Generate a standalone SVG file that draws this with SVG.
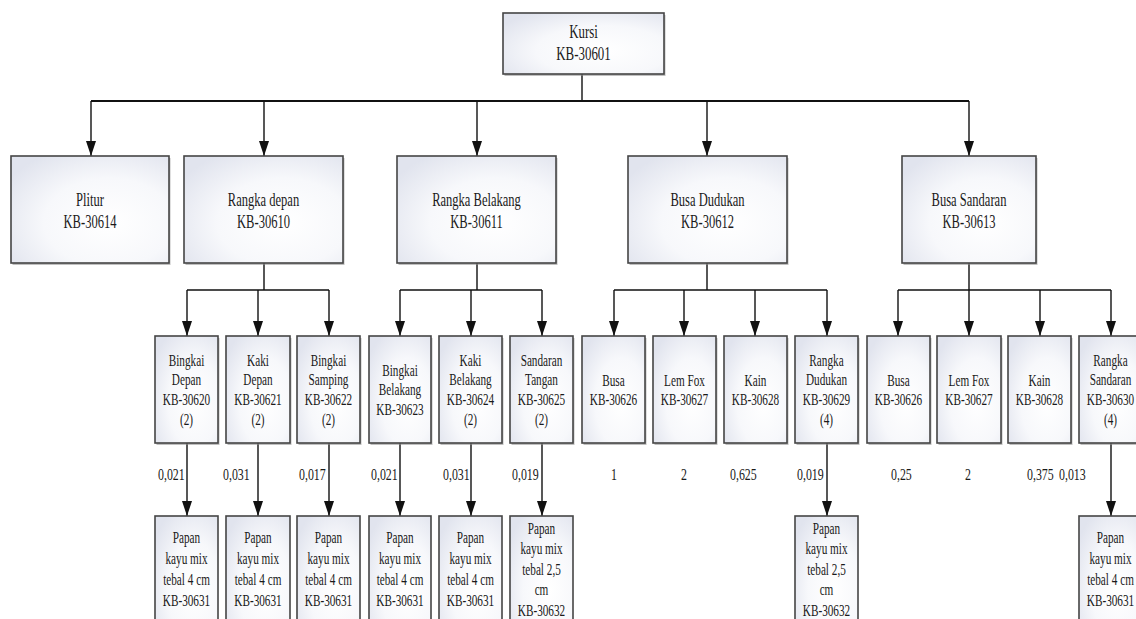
<svg xmlns="http://www.w3.org/2000/svg" width="1136" height="619" viewBox="0 0 1136 619">
<style>
.box{fill:url(#bg);stroke:#454545;stroke-width:1.6}
.sh{fill:#8a8a8a;opacity:.55}
.t{font-family:"Liberation Serif","Times New Roman",serif;fill:#1a1a1a;text-anchor:middle}
.big{font-size:19px}
.sm{font-size:17px}
.lbl{font-family:"Liberation Serif","Times New Roman",serif;fill:#1a1a1a;font-size:17px}
.c{fill:none;stroke:#111;stroke-width:1.4;marker-end:url(#ah)}
.c0{fill:none;stroke:#111;stroke-width:1.4}
.bus{fill:none;stroke:#111;stroke-width:2.2}
</style>
<defs>
<radialGradient id="bg" cx="62%" cy="62%" r="75%">
<stop offset="0" stop-color="#ffffff"/>
<stop offset="0.55" stop-color="#f7f8fb"/>
<stop offset="1" stop-color="#e1e4ee"/>
</radialGradient>
<marker id="ah" markerUnits="userSpaceOnUse" markerWidth="15" markerHeight="10" refX="15" refY="5" orient="auto">
<path d="M0,0 L15,5 L0,10 z" fill="#111"/>
</marker>
</defs>
<rect width="1136" height="619" fill="#ffffff"/>

<g id="connectors">
<path class="c0" d="M582,74 V101"/>
<path class="bus" d="M91,101 H969"/>
<path class="c" d="M91,101 V156"/>
<path class="c" d="M264,101 V156"/>
<path class="c" d="M477,101 V156"/>
<path class="c" d="M707,101 V156"/>
<path class="c" d="M969,101 V156"/>

<path class="c0" d="M264,263 V290 M187,290 H329"/>
<path class="c" d="M187,290 V336"/>
<path class="c" d="M258,290 V336"/>
<path class="c" d="M329,290 V336"/>

<path class="c0" d="M477,263 V290 M400,290 H542"/>
<path class="c" d="M400,290 V336"/>
<path class="c" d="M471,290 V336"/>
<path class="c" d="M542,290 V336"/>

<path class="c0" d="M707,263 V290 M614,290 H827"/>
<path class="c" d="M614,290 V336"/>
<path class="c" d="M684,290 V336"/>
<path class="c" d="M755,290 V336"/>
<path class="c" d="M827,290 V336"/>

<path class="c0" d="M969,263 V290 M898,290 H1111"/>
<path class="c" d="M898,290 V336"/>
<path class="c" d="M969,290 V336"/>
<path class="c" d="M1040,290 V336"/>
<path class="c" d="M1111,290 V336"/>

<path class="c" d="M187,443 V516"/>
<path class="c" d="M258,443 V516"/>
<path class="c" d="M329,443 V516"/>
<path class="c" d="M400,443 V516"/>
<path class="c" d="M471,443 V516"/>
<path class="c" d="M542,443 V516"/>
<path class="c" d="M827,443 V516"/>
<path class="c" d="M1111,443 V516"/>
</g>

<g id="labels">
<text class="lbl" transform="translate(158,479.8) scale(0.7,1)">0,021</text>
<text class="lbl" transform="translate(223,479.8) scale(0.7,1)">0,031</text>
<text class="lbl" transform="translate(299,479.8) scale(0.7,1)">0,017</text>
<text class="lbl" transform="translate(371,479.8) scale(0.7,1)">0,021</text>
<text class="lbl" transform="translate(443,479.8) scale(0.7,1)">0,031</text>
<text class="lbl" transform="translate(512,479.8) scale(0.7,1)">0,019</text>
<text class="lbl" text-anchor="middle" transform="translate(614,479.8) scale(0.7,1)">1</text>
<text class="lbl" text-anchor="middle" transform="translate(684,479.8) scale(0.7,1)">2</text>
<text class="lbl" transform="translate(730,479.8) scale(0.7,1)">0,625</text>
<text class="lbl" transform="translate(797,479.8) scale(0.7,1)">0,019</text>
<text class="lbl" transform="translate(891,479.8) scale(0.7,1)">0,25</text>
<text class="lbl" text-anchor="middle" transform="translate(968,479.8) scale(0.7,1)">2</text>
<text class="lbl" transform="translate(1027,479.8) scale(0.7,1)">0,375</text>
<text class="lbl" transform="translate(1059,479.8) scale(0.7,1)">0,013</text>
</g>

<g id="kursi">
<rect class="sh" x="504.5" y="15" width="161" height="61"/>
<rect class="box" x="503" y="13" width="161" height="61"/>
<text class="t big" transform="translate(583.5,38.2) scale(0.68,1)"><tspan x="0" y="0">Kursi</tspan><tspan x="0" y="21.6">KB-30601</tspan></text>
</g>

<g id="plitur">
<rect class="sh" x="12.5" y="158" width="158" height="107"/>
<rect class="box" x="11" y="156" width="158" height="107"/>
<text class="t big" transform="translate(90,206) scale(0.66,1)"><tspan x="0" y="0">Plitur</tspan><tspan x="0" y="22.5">KB-30614</tspan></text>
</g>
<g id="rangka-depan">
<rect class="sh" x="185.5" y="158" width="159" height="107"/>
<rect class="box" x="184" y="156" width="159" height="107"/>
<text class="t big" transform="translate(263.5,206) scale(0.66,1)"><tspan x="0" y="0">Rangka depan</tspan><tspan x="0" y="22.5">KB-30610</tspan></text>
</g>
<g id="rangka-belakang">
<rect class="sh" x="398.5" y="158" width="159" height="107"/>
<rect class="box" x="397" y="156" width="159" height="107"/>
<text class="t big" transform="translate(476.5,206) scale(0.66,1)"><tspan x="0" y="0">Rangka Belakang</tspan><tspan x="0" y="22.5">KB-30611</tspan></text>
</g>
<g id="busa-dudukan">
<rect class="sh" x="629.5" y="158" width="159" height="107"/>
<rect class="box" x="628" y="156" width="159" height="107"/>
<text class="t big" transform="translate(707.5,206) scale(0.66,1)"><tspan x="0" y="0">Busa Dudukan</tspan><tspan x="0" y="22.5">KB-30612</tspan></text>
</g>
<g id="busa-sandaran">
<rect class="sh" x="903.5" y="158" width="134" height="107"/>
<rect class="box" x="902" y="156" width="134" height="107"/>
<text class="t big" transform="translate(969,206) scale(0.66,1)"><tspan x="0" y="0">Busa Sandaran</tspan><tspan x="0" y="22.5">KB-30613</tspan></text>
</g>

<g id="bingkai-depan">
<rect class="sh" x="156.5" y="338" width="63" height="107"/>
<rect class="box" x="155" y="336" width="63" height="107"/>
<text class="t sm" transform="translate(186.5,365.8) scale(0.66,1)"><tspan x="0" y="0">Bingkai</tspan><tspan x="0" y="19.7">Depan</tspan><tspan x="0" y="39.4">KB-30620</tspan><tspan x="0" y="59.1">(2)</tspan></text>
</g>
<g id="kaki-depan">
<rect class="sh" x="227.5" y="338" width="64" height="107"/>
<rect class="box" x="226" y="336" width="64" height="107"/>
<text class="t sm" transform="translate(258,365.8) scale(0.66,1)"><tspan x="0" y="0">Kaki</tspan><tspan x="0" y="19.7">Depan</tspan><tspan x="0" y="39.4">KB-30621</tspan><tspan x="0" y="59.1">(2)</tspan></text>
</g>
<g id="bingkai-samping">
<rect class="sh" x="298.5" y="338" width="63" height="107"/>
<rect class="box" x="297" y="336" width="63" height="107"/>
<text class="t sm" transform="translate(328.5,365.8) scale(0.66,1)"><tspan x="0" y="0">Bingkai</tspan><tspan x="0" y="19.7">Samping</tspan><tspan x="0" y="39.4">KB-30622</tspan><tspan x="0" y="59.1">(2)</tspan></text>
</g>
<g id="bingkai-belakang">
<rect class="sh" x="370.5" y="338" width="62" height="107"/>
<rect class="box" x="369" y="336" width="62" height="107"/>
<text class="t sm" transform="translate(400,375.6) scale(0.66,1)"><tspan x="0" y="0">Bingkai</tspan><tspan x="0" y="19.7">Belakang</tspan><tspan x="0" y="39.4">KB-30623</tspan></text>
</g>
<g id="kaki-belakang">
<rect class="sh" x="440.5" y="338" width="63" height="107"/>
<rect class="box" x="439" y="336" width="63" height="107"/>
<text class="t sm" transform="translate(470.5,365.8) scale(0.66,1)"><tspan x="0" y="0">Kaki</tspan><tspan x="0" y="19.7">Belakang</tspan><tspan x="0" y="39.4">KB-30624</tspan><tspan x="0" y="59.1">(2)</tspan></text>
</g>
<g id="sandaran-tangan">
<rect class="sh" x="511.5" y="338" width="63" height="107"/>
<rect class="box" x="510" y="336" width="63" height="107"/>
<text class="t sm" transform="translate(541.5,365.8) scale(0.66,1)"><tspan x="0" y="0">Sandaran</tspan><tspan x="0" y="19.7">Tangan</tspan><tspan x="0" y="39.4">KB-30625</tspan><tspan x="0" y="59.1">(2)</tspan></text>
</g>
<g id="busa-1">
<rect class="sh" x="583.5" y="338" width="63" height="107"/>
<rect class="box" x="582" y="336" width="63" height="107"/>
<text class="t sm" transform="translate(613.5,385.5) scale(0.66,1)"><tspan x="0" y="0">Busa</tspan><tspan x="0" y="19.7">KB-30626</tspan></text>
</g>
<g id="lem-fox-1">
<rect class="sh" x="654.5" y="338" width="63" height="107"/>
<rect class="box" x="653" y="336" width="63" height="107"/>
<text class="t sm" transform="translate(684.5,385.5) scale(0.66,1)"><tspan x="0" y="0">Lem Fox</tspan><tspan x="0" y="19.7">KB-30627</tspan></text>
</g>
<g id="kain-1">
<rect class="sh" x="725.5" y="338" width="63" height="107"/>
<rect class="box" x="724" y="336" width="63" height="107"/>
<text class="t sm" transform="translate(755.5,385.5) scale(0.66,1)"><tspan x="0" y="0">Kain</tspan><tspan x="0" y="19.7">KB-30628</tspan></text>
</g>
<g id="rangka-dudukan">
<rect class="sh" x="796.5" y="338" width="63" height="107"/>
<rect class="box" x="795" y="336" width="63" height="107"/>
<text class="t sm" transform="translate(826.5,365.8) scale(0.66,1)"><tspan x="0" y="0">Rangka</tspan><tspan x="0" y="19.7">Dudukan</tspan><tspan x="0" y="39.4">KB-30629</tspan><tspan x="0" y="59.1">(4)</tspan></text>
</g>
<g id="busa-2">
<rect class="sh" x="868.5" y="338" width="63" height="107"/>
<rect class="box" x="867" y="336" width="63" height="107"/>
<text class="t sm" transform="translate(898.5,385.5) scale(0.66,1)"><tspan x="0" y="0">Busa</tspan><tspan x="0" y="19.7">KB-30626</tspan></text>
</g>
<g id="lem-fox-2">
<rect class="sh" x="938.5" y="338" width="64" height="107"/>
<rect class="box" x="937" y="336" width="64" height="107"/>
<text class="t sm" transform="translate(969,385.5) scale(0.66,1)"><tspan x="0" y="0">Lem Fox</tspan><tspan x="0" y="19.7">KB-30627</tspan></text>
</g>
<g id="kain-2">
<rect class="sh" x="1009.5" y="338" width="63" height="107"/>
<rect class="box" x="1008" y="336" width="63" height="107"/>
<text class="t sm" transform="translate(1039.5,385.5) scale(0.66,1)"><tspan x="0" y="0">Kain</tspan><tspan x="0" y="19.7">KB-30628</tspan></text>
</g>
<g id="rangka-sandaran">
<rect class="sh" x="1080.5" y="338" width="63" height="107"/>
<rect class="box" x="1079" y="336" width="63" height="107"/>
<text class="t sm" transform="translate(1110.5,365.8) scale(0.66,1)"><tspan x="0" y="0">Rangka</tspan><tspan x="0" y="19.7">Sandaran</tspan><tspan x="0" y="39.4">KB-30630</tspan><tspan x="0" y="59.1">(4)</tspan></text>
</g>

<g id="papan-1">
<rect class="box" x="155" y="516" width="63" height="120"/>
<text class="t sm" transform="translate(186.5,542.8) scale(0.66,1)"><tspan x="0" y="0">Papan</tspan><tspan x="0" y="21">kayu mix</tspan><tspan x="0" y="42">tebal 4 cm</tspan><tspan x="0" y="63">KB-30631</tspan></text>
</g>
<g id="papan-2">
<rect class="box" x="226" y="516" width="64" height="120"/>
<text class="t sm" transform="translate(258,542.8) scale(0.66,1)"><tspan x="0" y="0">Papan</tspan><tspan x="0" y="21">kayu mix</tspan><tspan x="0" y="42">tebal 4 cm</tspan><tspan x="0" y="63">KB-30631</tspan></text>
</g>
<g id="papan-3">
<rect class="box" x="297" y="516" width="63" height="120"/>
<text class="t sm" transform="translate(328.5,542.8) scale(0.66,1)"><tspan x="0" y="0">Papan</tspan><tspan x="0" y="21">kayu mix</tspan><tspan x="0" y="42">tebal 4 cm</tspan><tspan x="0" y="63">KB-30631</tspan></text>
</g>
<g id="papan-4">
<rect class="box" x="369" y="516" width="62" height="120"/>
<text class="t sm" transform="translate(400,542.8) scale(0.66,1)"><tspan x="0" y="0">Papan</tspan><tspan x="0" y="21">kayu mix</tspan><tspan x="0" y="42">tebal 4 cm</tspan><tspan x="0" y="63">KB-30631</tspan></text>
</g>
<g id="papan-5">
<rect class="box" x="439" y="516" width="63" height="120"/>
<text class="t sm" transform="translate(470.5,542.8) scale(0.66,1)"><tspan x="0" y="0">Papan</tspan><tspan x="0" y="21">kayu mix</tspan><tspan x="0" y="42">tebal 4 cm</tspan><tspan x="0" y="63">KB-30631</tspan></text>
</g>
<g id="papan-6">
<rect class="box" x="510" y="516" width="63" height="120"/>
<text class="t sm" transform="translate(541.5,533.8) scale(0.66,1)"><tspan x="0" y="0">Papan</tspan><tspan x="0" y="20.5">kayu mix</tspan><tspan x="0" y="41">tebal 2,5</tspan><tspan x="0" y="61.5">cm</tspan><tspan x="0" y="82">KB-30632</tspan></text>
</g>
<g id="papan-7">
<rect class="box" x="795" y="516" width="63" height="120"/>
<text class="t sm" transform="translate(826.5,533.8) scale(0.66,1)"><tspan x="0" y="0">Papan</tspan><tspan x="0" y="20.5">kayu mix</tspan><tspan x="0" y="41">tebal 2,5</tspan><tspan x="0" y="61.5">cm</tspan><tspan x="0" y="82">KB-30632</tspan></text>
</g>
<g id="papan-8">
<rect class="box" x="1079" y="516" width="63" height="120"/>
<text class="t sm" transform="translate(1110.5,542.8) scale(0.66,1)"><tspan x="0" y="0">Papan</tspan><tspan x="0" y="21">kayu mix</tspan><tspan x="0" y="42">tebal 4 cm</tspan><tspan x="0" y="63">KB-30631</tspan></text>
</g>
</svg>
